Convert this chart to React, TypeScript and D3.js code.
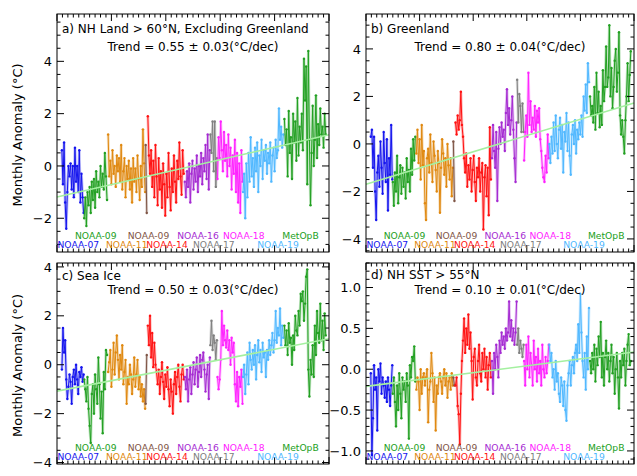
import React, { useEffect, useRef } from 'react';
import * as d3 from 'd3';

const W = 637;
const H = 476;
const FONT = '"DejaVu Sans", Arial, sans-serif';

// satellites, in time order
const satNames = ['NOAA-07', 'NOAA-09', 'NOAA-11', 'NOAA-09', 'NOAA-14', 'NOAA-16', 'NOAA-17', 'NOAA-18', 'NOAA-19', 'MetOpB'];
const satColors = ['#1414ee', '#22a022', '#e0880f', '#7f5546', '#ff1212', '#a52ad2', '#808080', '#ff22ff', '#50b8ff', '#22a022'];
// first month of each satellite (months from the left edge of the time axis); points every 2 months
const segStart = [9, 50, 94, 163, 167, 235, 282, 295, 342, 418];
const monthStep = 2;
// where each satellite name sits (month), and on which row (0 = upper)
const labelMonth = [0, 33, 90, 130, 164, 221, 250, 305, 368, 414];
const labelRow = [1, 0, 1, 0, 1, 0, 1, 0, 1, 0];
const xDomain = [0, 500];

// a) NH land > 60N excluding Greenland
const landData = [
  [0.6, -0.7, 0.9, -1.4, -2.4, -1.0, 0.0, -0.4, 0.1, -0.9, 0.0, -1.2, 0.7, -0.6, 0.0, -1.0, 0.6, -1.4, -0.3, -1.2, -1.8],
  [-2.0, -1.2, -2.3, -1.0, -1.5, -0.8, -1.8, -0.6, -1.3, -0.5, -1.6, -0.2, -1.0, -0.6, -1.2, 0.0, -0.8, -0.3, -0.9, 0.5, -0.4, -1.3],
  [1.2, -0.4, 0.2, -0.7, 0.6, -0.3, 0.0, -0.8, 0.4, -0.2, 0.3, -0.6, 0.8, -0.9, -0.2, 0.3, -1.2, 0.0, -0.5, 0.2, -0.9, -0.1, -1.4, 0.3, -0.6, -0.1, -1.0, 0.4, -0.5, -1.3, 0.0, -0.8, 1.4, 0.1, -1.0],
  [0.8, -1.8],
  [1.9, 0.4, -0.3, 0.6, -0.8, 0.2, -1.2, 0.8, -0.4, -1.5, 0.3, -0.9, -0.2, -1.6, 0.1, -0.7, -1.9, -0.3, -1.2, 0.5, -0.8, -1.7, -0.1, -1.0, 0.4, -0.6, -1.4, 0.2, -0.5, 0.9, -0.4, -1.1, 0.6, -0.3],
  [-0.6, -1.2, -0.2, -0.8, 0.1, -1.4, -0.3, 0.2, -0.9, -0.1, -0.6, 0.4, -1.0, 0.0, -0.4, 0.5, -0.7, 0.3, -0.2, 0.8, -0.5, 1.2, -0.9, 0.6],
  [1.2, 0.5, 1.7, -0.2, 1.7, -0.8, 0.3],
  [-0.5, 1.1, 0.3, 1.7, 0.6, -0.2, 1.3, 0.2, 0.8, -0.4, 1.2, 0.0, 0.7, -0.9, 0.4, -0.3, 1.0, -1.0, 0.5, -1.4, 0.1, -1.8, 0.6, -0.6],
  [-1.0, -0.3, -2.0, 0.1, -1.2, 0.5, -0.6, 1.1, -0.4, 0.3, -0.8, 0.7, -0.2, 0.9, -1.0, 0.4, 0.0, 1.0, -0.5, 0.6, 0.2, 0.8, -0.3, 0.5, 0.1, 0.9, -0.6, 0.4, 0.7, -0.2, 1.0, 0.3, 0.6, 2.2, 1.0, 1.5, 0.7, 1.2],
  [1.8, 0.8, 1.4, -0.4, 2.1, 0.5, 1.1, -0.5, 2.0, 0.9, 1.7, 0.2, 2.6, 0.4, 1.5, 0.9, 2.0, 0.6, 4.1, 2.5, 3.8, -0.7, 4.4, 1.0, -1.5, 0.5, 2.3, 0.0, 1.0, 2.7, 0.3, 1.6, 0.8, 2.2, 1.2, 1.5, 0.7, 2.0, 1.2],
];

// b) Greenland
const greenlandData = [
  [0.3, 0.6, -1.0, 0.3, -2.0, -3.2, -1.2, -0.5, -1.8, 0.1, -1.0, -2.1, 0.5, -0.8, -1.6, 0.2, -2.8, -0.6, -1.3, 0.8, -1.5],
  [-1.6, -2.6, -1.2, -2.0, -0.5, -2.5, -1.4, -0.9, -2.1, -1.0, -1.8, -1.2, -2.3, -0.6, -1.6, -1.1, -2.0, -0.2, -1.3, 0.2, -0.7, 0.3],
  [-0.4, 0.6, -0.8, 0.2, -1.5, 0.8, -0.9, -0.3, -2.5, -3.2, -0.6, -0.2, -1.2, 0.4, -0.8, -1.6, 0.1, -0.5, -1.1, -2.0, -0.3, -0.8, -2.9, -1.0, 0.2, -0.4, -1.3, -0.6, -1.8, 0.0, -0.9, -1.5, -0.6, -2.2, -1.0],
  [0.1, -2.4],
  [0.9, 0.4, 1.2, 0.6, 1.0, 2.2, 0.8, 0.3, -0.6, -1.2, -0.4, -1.8, -0.9, -1.5, -0.6, -2.0, -1.1, -0.5, -1.6, -2.4, -1.0, -1.4, -0.6, -2.0, -1.2, -0.8, -3.6, -1.4, -0.9, -2.2, -1.0, -3.0, 0.7, -1.5],
  [-0.6, 0.8, -0.3, -1.0, 0.5, -2.4, -0.2, 0.7, 0.0, 0.9, 0.3, 0.6, -0.3, 1.3, 2.3, 0.8, 1.5, 0.4, 1.0, 2.0, 0.6, -0.6, -1.6, 0.9],
  [2.7, 0.9, 2.1, 1.6, 0.5, 1.7, 0.5],
  [-0.7, 0.5, 1.2, 0.3, 3.0, 0.8, 1.8, 0.5, 1.1, 0.6, 1.6, 0.3, 1.4, 0.9, 1.5, 0.2, -0.3, -1.0, -1.4, -1.6, -0.5, -1.2, 0.4, -0.6],
  [0.0, -0.8, 0.3, -0.4, 0.9, -0.3, 1.2, 0.0, -0.6, 0.6, 1.1, -0.2, 0.8, -1.2, 0.5, 0.1, 1.3, -0.3, 0.9, -0.5, -1.3, 0.4, 0.8, 0.0, 1.0, -0.4, 0.6, 0.2, 0.9, 0.4, 1.2, 0.3, 2.0, 1.4, 2.5, 1.3, 3.4, 2.6],
  [2.0, 1.2, 1.6, 0.9, 2.4, 0.6, 3.0, 1.3, 2.2, 0.7, 1.6, 0.8, 3.1, 1.8, 2.4, 4.1, 2.4, 2.8, 5.0, 2.0, 3.2, 1.5, 2.4, 3.5, 4.0, 2.2, 3.0, 4.7, 1.2, 0.4, 1.0, 0.3, -0.4, 1.0, 2.0, 3.4, 1.8, 2.9, 3.9],
];

// c) sea ice
const seaIceData = [
  [-0.2, 1.5, 0.5, 1.0, -0.6, -1.4, -0.9, -0.4, -0.7, -1.6, -0.5, -0.2, -0.8, 0.0, -0.6, -1.2, -0.3, -0.5, -0.1, -0.7, -0.4],
  [-0.6, -1.0, -1.5, -0.5, -1.8, -2.5, -3.2, -1.2, -0.8, -2.0, -0.4, -1.0, -1.6, 0.3, -0.8, -2.2, -1.1, -2.8, -0.3, -1.0, 0.6, 0.4],
  [-0.3, 0.1, 0.6, -0.9, -0.2, 0.9, -0.4, 0.5, 1.2, 0.2, -0.6, 0.4, -0.2, 0.8, -0.8, -0.3, 0.2, -1.6, -0.5, -0.8, 0.0, -0.4, -1.2, -0.6, 0.3, -0.9, -0.4, 0.2, -1.0, -0.5, -1.3, -0.8, -1.5, -1.0, -1.8],
  [-1.6, 0.4],
  [1.6, 0.8, 2.0, 0.3, 1.3, -0.1, 0.9, 0.0, -0.3, -0.8, -0.2, -1.2, -0.5, 0.1, -0.7, -1.4, -0.4, -0.9, -0.1, -1.0, -1.7, -0.6, -1.1, -2.0, -0.8, -0.3, -1.2, -0.5, 0.0, -0.9, -1.5, -0.4, 0.0, -0.6],
  [-0.5, -1.0, -0.2, -1.5, -0.6, -0.1, -1.2, -0.4, 0.1, -0.8, -0.2, 0.3, -0.9, -0.3, 0.4, -0.5, 0.2, 0.5, -0.2, -1.1, -0.4, 0.0, -1.4, 0.3],
  [0.8, 1.8, 0.6, 1.2, 0.9, 0.2, 1.0],
  [-0.5, -1.0, -0.6, 0.2, 2.2, 0.8, 1.6, 1.0, 0.7, 1.4, 0.6, 1.0, 0.0, 1.1, 0.5, 0.9, -0.8, -1.5, -0.3, -1.7, -0.5, -0.9, -0.2, -1.6],
  [-0.5, 0.0, -1.2, -0.4, 0.5, -0.8, 0.9, 0.2, -0.2, 0.6, 0.0, 0.8, -0.6, 0.4, 1.0, 0.1, 0.6, -0.3, 0.9, 0.3, 0.5, -0.5, 0.6, 0.2, 1.0, 0.4, 0.8, 1.3, 0.5, 1.0, 2.2, 0.9, 1.5, 1.2, 2.3, 0.8, 1.6, 1.1],
  [1.6, 0.8, 1.4, 0.4, 1.7, 0.9, 1.1, 0.0, 1.2, 0.6, 2.0, 1.4, 1.2, 2.2, 1.6, 2.9, 2.6, 3.0, 1.8, 2.5, 3.6, 3.9, -0.2, -1.3, 0.2, -0.4, 0.8, -0.5, 1.6, 0.4, 2.2, 1.3, 0.9, 2.5, 1.0, 1.8, 0.6, 2.1, 1.2],
];

// d) NH SST > 55N
const sstData = [
  [-0.05, -1.05, -0.6, 0.05, -0.25, -0.1, -0.75, 0.0, -0.15, 0.07, -0.3, -0.1, -0.2, -0.35, -0.15, -0.4, -0.1, -0.25, -0.45, -0.2, 0.05],
  [-0.3, -0.1, -0.4, -0.7, -0.2, -0.5, -0.05, -0.3, -0.6, -0.1, -0.25, -0.15, -0.4, -0.05, -0.2, -0.85, 0.05, -0.1, 0.15, 0.1, 0.28, -0.15],
  [-0.25, -0.1, -0.15, -0.5, 0.0, -0.3, -0.1, -0.05, -0.2, -0.1, 0.0, -0.65, -0.25, -0.15, 0.2, -0.05, -0.4, -0.1, -0.75, -0.2, -0.3, -0.1, -0.05, -0.15, -0.3, -0.1, 0.0, -0.2, -0.05, -0.35, -0.15, -0.1, -0.25, -0.05, -0.2],
  [-0.1, -0.2],
  [-0.2, -0.1, -0.45, -0.55, -0.92, -0.3, 0.1, 0.35, 0.62, 0.2, 0.5, 0.3, 0.67, 0.25, 0.45, 0.1, -0.37, 0.15, 0.25, -0.1, -0.2, 0.1, 0.3, -0.05, -0.15, 0.2, 0.0, 0.25, -0.1, 0.15, -0.25, 0.05, 0.2, -0.1],
  [0.1, -0.3, 0.2, 0.0, 0.3, 0.15, -0.1, 0.35, 0.2, 0.45, 0.3, 0.4, 0.25, 0.5, 0.35, 0.45, 0.83, 0.4, 0.6, 0.35, 0.5, 0.3, 0.45, 0.83],
  [0.3, 0.5, 0.2, 0.35, 0.25, 0.15, 0.3],
  [0.1, -0.2, 0.3, 0.0, 0.4, -0.1, 0.2, 0.05, -0.2, 0.35, 0.0, 0.15, -0.15, 0.25, -0.05, 0.1, -0.2, 0.3, 0.0, -0.1, 0.15, -0.05, 0.1, 0.3],
  [0.3, 0.1, 0.2, -0.1, 0.0, -0.25, 0.1, -0.15, -0.05, -0.3, -0.4, -0.1, -0.2, -0.45, -0.15, -0.5, -0.63, -0.2, -0.05, 0.1, -0.2, 0.05, 0.15, -0.05, 0.2, 0.3, 0.1, 0.55, 0.2, 0.92, 0.45, 0.1, -0.1, 0.2, -0.25, 0.4, 0.0, 0.75],
  [0.1, -0.05, 0.2, 0.0, 0.3, -0.15, 0.25, 0.05, 0.4, 0.15, 0.58, -0.1, 0.2, -0.2, 0.15, 0.35, 0.0, 0.2, -0.15, 0.1, 0.3, -0.05, 0.15, -0.3, 0.0, 0.2, -0.1, -0.48, 0.1, -0.1, 0.2, 0.05, 0.25, -0.2, 0.1, 0.3, 0.43, 0.05, 0.1],
];

const titles = ['a) NH Land > 60°N, Excluding Greenland', 'b) Greenland', 'c) Sea Ice', 'd) NH SST > 55°N'];
const trendTexts = ['Trend = 0.55 ± 0.03(°C/dec)', 'Trend = 0.80 ± 0.04(°C/dec)', 'Trend = 0.50 ± 0.03(°C/dec)', 'Trend = 0.10 ± 0.01(°C/dec)'];
// fitted trend line value at the left and right edge of the time axis
const trendEnds = [[-1.19, 1.19], [-1.7, 1.72], [-1.08, 1.06], [-0.21, 0.21]];
const yTickValues = [[-2, 0, 2, 4], [-4, -2, 0, 2, 4], [-4, -2, 0, 2, 4], [-1.0, -0.5, 0.0, 0.5, 1.0]];

const panels = [
  { data: landData, yDomain: [-3.29, 5.81], minor: 0.5, fmt: d3.format('d'), box: [57, 14, 329, 252], yLabel: true, titleDy: 19, trendDy: 37 },
  { data: greenlandData, yDomain: [-4.55, 5.47], minor: 0.5, fmt: d3.format('d'), box: [366, 14, 634, 252], yLabel: false, titleDy: 19, trendDy: 37 },
  { data: seaIceData, yDomain: [-4.06, 4.16], minor: 0.5, fmt: d3.format('d'), box: [57, 263, 329, 464], yLabel: true, titleDy: 17, trendDy: 30.5 },
  { data: sstData, yDomain: [-1.16, 1.3], minor: 0.1, fmt: d3.format('.1f'), box: [366, 263, 634, 464], yLabel: false, titleDy: 16, trendDy: 30.5 },
];

const App = () => {
  const ref = useRef<SVGSVGElement>(null);

  useEffect(() => {
    if (!ref.current) return;
    const svg = d3.select(ref.current);
    svg.selectAll('*').remove();
    svg.append('rect').attr('width', W).attr('height', H).attr('fill', '#fff');

    panels.forEach((p, pi) => {
      const [x0, y0, x1, y1] = p.box;
      const x = d3.scaleLinear().domain(xDomain).range([x0, x1]);
      const y = d3.scaleLinear().domain(p.yDomain).range([y1, y0]);
      const g = svg.append('g');

      const line = d3.line<[number, number]>().x(d => x(d[0])).y(d => y(d[1]));

      p.data.forEach((vals, si) => {
        const pts: [number, number][] = vals.map((v, i) => [segStart[si] + monthStep * i, v]);
        const col = satColors[si];
        g.append('path').attr('d', line(pts)).attr('fill', 'none')
          .attr('stroke', col).attr('stroke-width', 2.8).attr('stroke-opacity', 0.28);
        g.append('path').attr('d', line(pts)).attr('fill', 'none')
          .attr('stroke', col).attr('stroke-width', 1);
        g.selectAll(null).data(pts).enter().append('circle')
          .attr('cx', d => x(d[0])).attr('cy', d => y(d[1]))
          .attr('r', 1.2).attr('fill', col);
      });

      // trend line
      g.append('line')
        .attr('x1', x(xDomain[0])).attr('y1', y(trendEnds[pi][0]))
        .attr('x2', x(xDomain[1])).attr('y2', y(trendEnds[pi][1]))
        .attr('stroke', '#a4f0a0').attr('stroke-width', 1.6);

      // frame
      g.append('rect').attr('x', x0).attr('y', y0).attr('width', x1 - x0).attr('height', y1 - y0)
        .attr('fill', 'none').attr('stroke', '#000').attr('stroke-width', 1);

      // x ticks, inward, top and bottom
      const xMinor = d3.range(xDomain[0], xDomain[1] + 0.1, 10);
      xMinor.forEach(m => {
        const len = m % 100 === 0 ? 7 : 3.5;
        const px = x(m);
        g.append('line').attr('x1', px).attr('x2', px).attr('y1', y1).attr('y2', y1 - len).attr('stroke', '#000');
        g.append('line').attr('x1', px).attr('x2', px).attr('y1', y0).attr('y2', y0 + len).attr('stroke', '#000');
      });

      // y ticks, inward, left and right
      const majors = yTickValues[pi];
      const yMinor = d3.range(Math.ceil(p.yDomain[0] / p.minor) * p.minor, p.yDomain[1], p.minor);
      yMinor.forEach(v => {
        const isMajor = majors.some(t => Math.abs(t - v) < 1e-6);
        const len = isMajor ? 7 : 3.5;
        const py = y(v);
        g.append('line').attr('x1', x0).attr('x2', x0 + len).attr('y1', py).attr('y2', py).attr('stroke', '#000');
        g.append('line').attr('x1', x1).attr('x2', x1 - len).attr('y1', py).attr('y2', py).attr('stroke', '#000');
      });
      majors.forEach(v => {
        g.append('text').attr('x', x0 - 5).attr('y', y(v)).attr('dy', '0.36em')
          .attr('text-anchor', 'end').attr('font-family', FONT).attr('font-size', 13)
          .text(p.fmt(v));
      });

      // titles
      g.append('text').attr('x', x0 + 5).attr('y', y0 + p.titleDy)
        .attr('font-family', FONT).attr('font-size', 12).text(titles[pi]);
      g.append('text').attr('x', (x0 + x1) / 2).attr('y', y0 + p.trendDy).attr('text-anchor', 'middle')
        .attr('font-family', FONT).attr('font-size', 12).text(trendTexts[pi]);

      // satellite names
      satNames.forEach((name, si) => {
        g.append('text')
          .attr('x', Math.max(x(labelMonth[si]), x0 + 0.5))
          .attr('y', labelRow[si] === 0 ? y1 - 13.5 : y1 - 4)
          .attr('font-family', FONT).attr('font-size', 9.2)
          .attr('fill', satColors[si]).text(name);
      });

      if (p.yLabel) {
        const cy = (y0 + y1) / 2 + 2;
        g.append('text').attr('transform', `translate(22,${cy}) rotate(-90)`)
          .attr('text-anchor', 'middle').attr('font-family', FONT).attr('font-size', 13)
          .text('Monthly Anomaly (°C)');
      }
    });
  }, []);

  return (
    <svg ref={ref} width={W} height={H} style={{ position: 'absolute', left: 0, top: 0 }} />
  );
};

export default App;
